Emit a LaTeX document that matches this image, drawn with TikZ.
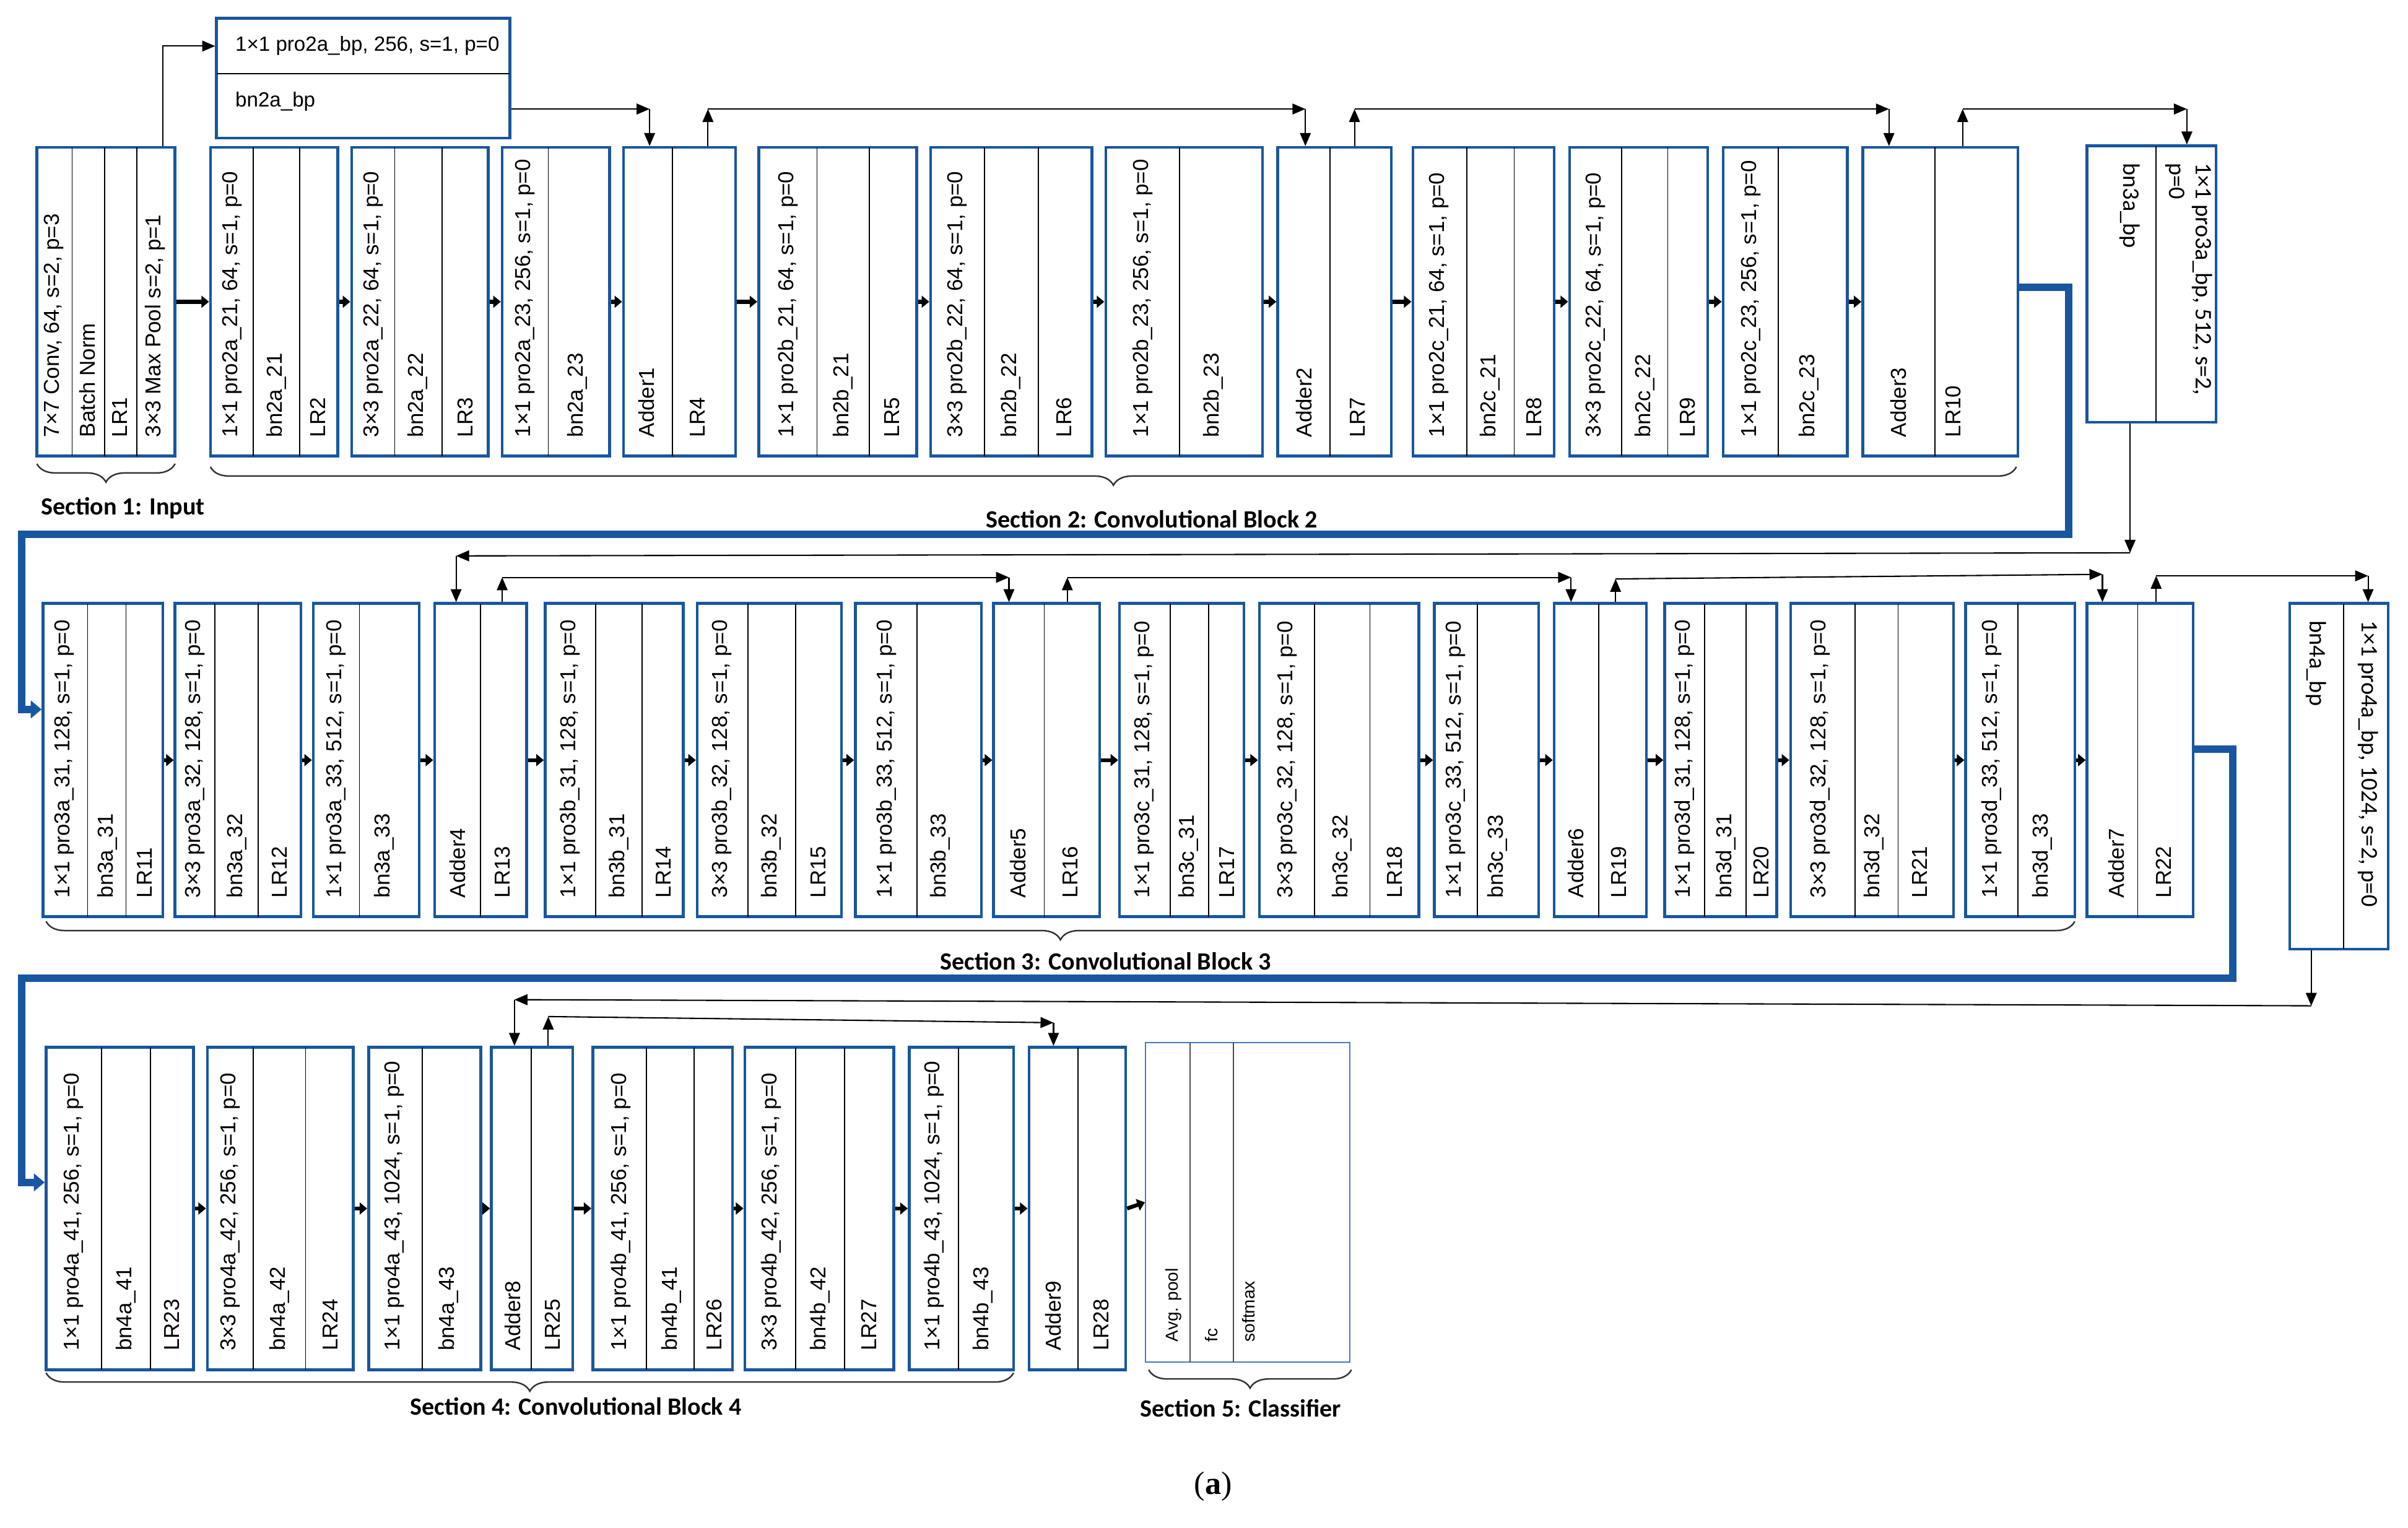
\documentclass[tikz,border=0pt]{standalone}
\usepackage{fontspec}
\setmainfont{Liberation Sans}
\newfontfamily\carl{Carlito}
\newfontfamily\serf{Liberation Serif}
\usetikzlibrary{fit,arrows.meta,decorations.pathreplacing}
\definecolor{bblue}{RGB}{24,86,160}
\definecolor{lblue}{RGB}{70,120,190}
\tikzset{
 x=0.25mm,y=-0.25mm,
 box/.style={draw=bblue,line width=1.3pt,inner sep=0pt},
 cbox/.style={draw=lblue,line width=0.7pt,inner sep=0pt},
 div/.style={black,line width=0.5pt},
 rt/.style={rotate=90,anchor=west,inner sep=0pt,font=\fontsize{10}{11}\selectfont},
 rtc/.style={rotate=90,anchor=west,inner sep=0pt,font=\fontsize{8}{9}\selectfont},
 ln/.style={black,line width=0.6pt},
 tip/.style={-{Triangle[length=6pt,width=5pt]}},
 sarr/.style={black,line width=1.8pt,-{Triangle[length=3.5pt,width=5.5pt]},shorten <=0pt},
 blu/.style={bblue,line width=3.5pt,-{Triangle[length=5pt,width=8pt]}},
 brc/.style={black!80,line width=0.7pt,decorate,decoration={brace,mirror,amplitude=3mm}},
 sec/.style={font=\carl\bfseries\fontsize{11.5}{12}\selectfont,inner sep=0pt},
 bpt/.style={inner sep=0pt,font=\carl\fontsize{11}{12.5}\selectfont},
}
\newcommand\blk[7]{%
 \node[box,fit={(#2,#4)(#3,#5)}] (#1) {};
 \foreach \d in {#6} \draw[div] (\d,#4) -- (\d,#5);
 \foreach \tx/\t in {#7} \node[rt] at (\tx,{#5-12}) {\t};
}
\begin{document}
\begin{tikzpicture}
\useasboundingbox (0,0) rectangle (1568,994.7);
% ---------------- Row 1
\blk{r1b1}{24}{114}{96}{297}{47,68,89}{35/{7×7 Conv, 64, s=2, p=3},57/{Batch Norm},78/LR1,101/{3×3 Max Pool s=2, p=1}}
\blk{r1b2}{137}{220}{96}{297}{165,195}{151/{1×1 pro2a\_21, 64, s=1, p=0},180/bn2a\_21,207/LR2}
\blk{r1b3}{229}{318}{96}{297}{257,288}{243/{3×3 pro2a\_22, 64, s=1, p=0},272/bn2a\_22,303/LR3}
\blk{r1b4}{327}{397}{96}{297}{357}{342/{1×1 pro2a\_23, 256, s=1, p=0},376/bn2a\_23}
\blk{r1b5}{406}{479}{96}{297}{438}{421/Adder1,454/LR4}
\blk{r1b6}{494}{597}{96}{297}{532,566}{513/{1×1 pro2b\_21, 64, s=1, p=0},549/bn2b\_21,581/LR5}
\blk{r1b7}{606}{711}{96}{297}{641,676}{623/{3×3 pro2b\_22, 64, s=1, p=0},658/bn2b\_22,693/LR6}
\blk{r1b8}{720}{822}{96}{297}{768}{744/{1×1 pro2b\_23, 256, s=1, p=0},790/bn2b\_23}
\blk{r1b9}{832}{906}{96}{297}{866}{849/Adder2,884/LR7}
\blk{r1b10}{920}{1012}{96}{297}{955,986}{937/{1×1 pro2c\_21, 64, s=1, p=0},970/bn2c\_21,999/LR8}
\blk{r1b11}{1022}{1112}{96}{297}{1056,1086}{1039/{3×3 pro2c\_22, 64, s=1, p=0},1071/bn2c\_22,1099/LR9}
\blk{r1b12}{1122}{1203}{96}{297}{1158}{1140/{1×1 pro2c\_23, 256, s=1, p=0},1178/bn2c\_23}
\blk{r1b13}{1213}{1314}{96}{297}{1260}{1236/Adder3,1272/LR10}
% bp2
\node[box,fit={(141,12)(332,90)}] (bp2) {};
\draw[div] (141,48) -- (332,48);
\node[anchor=west,inner sep=0pt,font=\fontsize{9.5}{10}\selectfont] at (153,30) {1×1 pro2a\_bp, 256, s=1, p=0};
\node[anchor=west,inner sep=0pt,font=\fontsize{9.5}{10}\selectfont] at (153,66) {bn2a\_bp};
% bp3
\node[box,fit={(1359,95)(1443,275)}] (bp3) {};
\draw[div] (1404,95) -- (1404,275);
\node[bpt,rotate=270,anchor=north west,align=left] at (1441,106) {1×1 pro3a\_bp, 512, s=2,\\p=0};
\node[bpt,rotate=270,anchor=west] at (1387,106) {bn3a\_bp};
% ---------------- Row 2
\blk{r2b1}{28}{106}{393}{597}{57,82}{42/{1×1 pro3a\_31, 128, s=1, p=0},70/bn3a\_31,94/LR11}
\blk{r2b2}{114}{196}{393}{597}{140,168}{127/{3×3 pro3a\_32, 128, s=1, p=0},154/bn3a\_32,182/LR12}
\blk{r2b3}{204}{273}{393}{597}{234}{219/{1×1 pro3a\_33, 512, s=1, p=0},250/bn3a\_33}
\blk{r2b4}{283}{343}{393}{597}{313}{298/Adder4,327/LR13}
\blk{r2b5}{355}{445}{393}{597}{388,418}{371/{1×1 pro3b\_31, 128, s=1, p=0},403/bn3b\_31,432/LR14}
\blk{r2b6}{454}{548}{393}{597}{487,518}{470/{3×3 pro3b\_32, 128, s=1, p=0},502/bn3b\_32,533/LR15}
\blk{r2b7}{557}{639}{393}{597}{597}{577/{1×1 pro3b\_33, 512, s=1, p=0},612/bn3b\_33}
\blk{r2b8}{647}{716}{393}{597}{680}{663/Adder5,697/LR16}
\blk{r2b9}{729}{810}{393}{597}{762,787}{745/{1×1 pro3c\_31, 128, s=1, p=0},774/bn3c\_31,799/LR17}
\blk{r2b10}{820}{924}{393}{597}{856,892}{838/{3×3 pro3c\_32, 128, s=1, p=0},874/bn3c\_32,908/LR18}
\blk{r2b11}{934}{1002}{393}{597}{962}{948/{1×1 pro3c\_33, 512, s=1, p=0},975/bn3c\_33}
\blk{r2b12}{1012}{1072}{393}{597}{1041}{1026/Adder6,1054/LR19}
\blk{r2b13}{1084}{1157}{393}{597}{1110,1137}{1097/{1×1 pro3d\_31, 128, s=1, p=0},1124/bn3d\_31,1147/LR20}
\blk{r2b14}{1166}{1272}{393}{597}{1208,1236}{1185/{3×3 pro3d\_32, 128, s=1, p=0},1220/bn3d\_32,1250/LR21}
\blk{r2b15}{1280}{1351}{393}{597}{1314}{1297/{1×1 pro3d\_33, 512, s=1, p=0},1330/bn3d\_33}
\blk{r2b16}{1359}{1428}{393}{597}{1392}{1378/Adder7,1409/LR22}
% bp4
\node[box,fit={(1491,393)(1555,618)}] (bp4) {};
\draw[div] (1526,393) -- (1526,618);
\node[bpt,rotate=270,anchor=west] at (1542,404) {1×1 pro4a\_bp, 1024, s=2, p=0};
\node[bpt,rotate=270,anchor=west] at (1508,404) {bn4a\_bp};
% ---------------- Row 3
\blk{r3b1}{30}{126}{682}{892}{66,98}{48/{1×1 pro4a\_41, 256, s=1, p=0},82/bn4a\_41,112/LR23}
\blk{r3b2}{135}{230}{682}{892}{165,199}{150/{3×3 pro4a\_42, 256, s=1, p=0},182/bn4a\_42,215/LR24}
\blk{r3b3}{240}{313}{682}{892}{275}{257/{1×1 pro4a\_43, 1024, s=1, p=0},292/bn4a\_43}
\blk{r3b4}{320}{373}{682}{892}{346}{334/Adder8,360/LR25}
\blk{r3b5}{386}{477}{682}{892}{421,452}{404/{1×1 pro4b\_41, 256, s=1, p=0},437/bn4b\_41,465/LR26}
\blk{r3b6}{485}{582}{682}{892}{518,550}{502/{3×3 pro4b\_42, 256, s=1, p=0},534/bn4b\_42,566/LR27}
\blk{r3b7}{592}{660}{682}{892}{624}{608/{1×1 pro4b\_43, 1024, s=1, p=0},640/bn4b\_43}
\blk{r3b8}{670}{733}{682}{892}{702}{686/Adder9,717/LR28}
\node[cbox,fit={(746,679)(879,887)}] (cl) {};
\draw[div,black!70] (775,679) -- (775,887) (803,679) -- (803,887);
\node[rtc] at (764,874) {Avg. pool};
\node[rtc] at (789,874) {fc};
\node[rtc] at (813,874) {softmax};
% ---------------- small arrows
\foreach \a/\b in {r1b1/r1b2,r1b2/r1b3,r1b3/r1b4,r1b4/r1b5,r1b5/r1b6,r1b6/r1b7,r1b7/r1b8,r1b8/r1b9,r1b9/r1b10,r1b10/r1b11,r1b11/r1b12,r1b12/r1b13,
 r2b1/r2b2,r2b2/r2b3,r2b3/r2b4,r2b4/r2b5,r2b5/r2b6,r2b6/r2b7,r2b7/r2b8,r2b8/r2b9,r2b9/r2b10,r2b10/r2b11,r2b11/r2b12,r2b12/r2b13,r2b13/r2b14,r2b14/r2b15,r2b15/r2b16,
 r3b1/r3b2,r3b2/r3b3,r3b3/r3b4,r3b4/r3b5,r3b5/r3b6,r3b6/r3b7,r3b7/r3b8,r3b8/cl}
 \draw[sarr] (\a.east) -- (\b.west);
% ---------------- shortcut connectors row 1
\draw[ln,tip] (r1b1.north -| 106,0) -- (106,30) -- (bp2.west |- 0,30);
\draw[ln,tip] (bp2.east |- 0,71) -- (423,71);
\draw[ln,tip] (423,71) -- (r1b5.north -| 423,0);
\draw[ln,tip] (r1b5.north -| 461,0) -- (461,71);
\draw[ln,tip] (461,71) -- (850,71);
\draw[ln,tip] (850,71) -- (r1b9.north -| 850,0);
\draw[ln,tip] (r1b9.north -| 882,0) -- (882,71);
\draw[ln,tip] (882,71) -- (1230,71);
\draw[ln,tip] (1230,71) -- (r1b13.north -| 1230,0);
\draw[ln,tip] (r1b13.north -| 1278,0) -- (1278,71);
\draw[ln,tip] (1278,71) -- (1424,71);
\draw[ln,tip] (1424,71) -- (bp3.north -| 1424,0);
% row 2
\draw[ln,tip] (bp3.south -| 1387,0) -- (1387,360);
\draw[ln,tip] (1387,360) -- (297,362);
\draw[ln,tip] (297,362) -- (r2b4.north -| 297,0);
\draw[ln,tip] (r2b4.north -| 327,0) -- (327,376);
\draw[ln,tip] (327,376) -- (657,376);
\draw[ln,tip] (657,376) -- (r2b8.north -| 657,0);
\draw[ln,tip] (r2b8.north -| 695,0) -- (695,376);
\draw[ln,tip] (695,376) -- (1023,376);
\draw[ln,tip] (1023,376) -- (r2b12.north -| 1023,0);
\draw[ln,tip] (r2b12.north -| 1052,0) -- (1052,377);
\draw[ln,tip] (1052,377) -- (1369,374);
\draw[ln,tip] (1369,374) -- (r2b16.north -| 1369,0);
\draw[ln,tip] (r2b16.north -| 1404,0) -- (1404,375);
\draw[ln,tip] (1404,375) -- (1542,375);
\draw[ln,tip] (1542,375) -- (bp4.north -| 1542,0);
% row 3
\draw[ln,tip] (bp4.south -| 1505,0) -- (1505,655);
\draw[ln,tip] (1505,655) -- (335,651);
\draw[ln,tip] (335,651) -- (r3b4.north -| 335,0);
\draw[ln,tip] (r3b4.north -| 357,0) -- (357,662);
\draw[ln,tip] (357,662) -- (686,666);
\draw[ln,tip] (686,666) -- (r3b8.north -| 686,0);
% ---------------- blue connectors
\draw[blu,line join=miter] (r1b13.east |- 0,187) -- (1347,187) -- (1347,348) -- (14,348) -- (14,462) -- (r2b1.west |- 0,462);
\draw[blu,line join=miter] (r2b16.east |- 0,488) -- (1454,488) -- (1454,637) -- (14,637) -- (14,770) -- (r3b1.west |- 0,770);
% ---------------- braces and section labels
\draw[brc] (24,302) -- (114,302);
\node[sec] (s1) at (80,331) {Section 1: Input};
\draw[brc] (137,304) -- (1313,304);
\node[sec] (s2) at (750,338) {Section 2: Convolutional Block 2};
\draw[brc] (30,600) -- (1351,600);
\node[sec] (s3) at (720,626) {Section 3: Convolutional Block 3};
\draw[brc] (30,894) -- (660,894);
\node[sec] (s4) at (375,916) {Section 4: Convolutional Block 4};
\draw[brc] (748,892) -- (880,892);
\node[sec] (s5) at (808,917) {Section 5: Classifier};
\node[font=\serf\fontsize{15}{16}\selectfont] (cap) at (790,968) {(\textbf{a})};
\end{tikzpicture}
\end{document}
